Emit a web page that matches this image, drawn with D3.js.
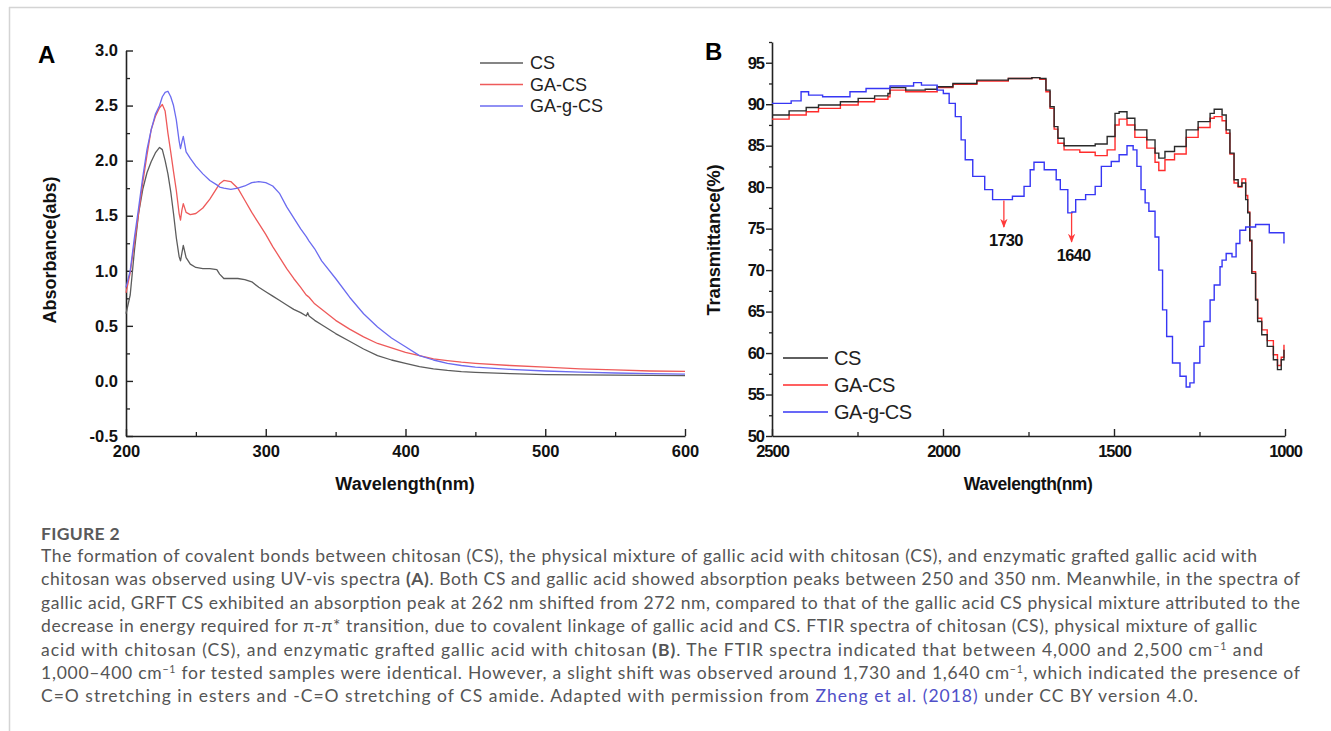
<!DOCTYPE html>
<html>
<head>
<meta charset="utf-8">
<script src="https://cdn.jsdelivr.net/npm/d3@7"></script>
<style>
body { margin: 0; background: #fff; }
svg text { font-family: "Liberation Sans", Arial, sans-serif; }
.cap { font-family: Lato, "Open Sans", sans-serif; white-space: pre; }
</style>
</head>
<body>
<svg id="fig" width="1331" height="731"></svg>
<script>
// ---- Panel A: UV-vis absorbance ----
const uvWave = [200, 203, 206, 209, 212, 215, 218, 221, 224, 226, 228, 230, 232, 234, 236, 238, 239, 240, 241, 243, 246, 250, 255, 260, 265, 267, 270, 275, 280, 285, 290, 295, 300, 305, 310, 315, 320, 325, 329, 330, 331, 335, 340, 350, 360, 370, 380, 390, 400, 410, 420, 430, 440, 450, 475, 500, 525, 550, 575, 600];
const uvCS = [0.61, 0.78, 1.18, 1.52, 1.74, 1.89, 1.99, 2.07, 2.12, 2.10, 2.00, 1.88, 1.72, 1.52, 1.30, 1.13, 1.09, 1.16, 1.23, 1.12, 1.06, 1.03, 1.02, 1.02, 1.01, 0.97, 0.93, 0.93, 0.93, 0.92, 0.90, 0.85, 0.81, 0.77, 0.73, 0.69, 0.65, 0.62, 0.59, 0.62, 0.59, 0.55, 0.51, 0.43, 0.36, 0.29, 0.23, 0.19, 0.16, 0.13, 0.11, 0.095, 0.085, 0.078, 0.066, 0.058, 0.055, 0.052, 0.05, 0.048];
const uvGACS = [0.80, 0.98, 1.25, 1.52, 1.80, 2.05, 2.28, 2.40, 2.48, 2.51, 2.45, 2.25, 2.08, 1.90, 1.73, 1.52, 1.46, 1.55, 1.61, 1.53, 1.51, 1.52, 1.57, 1.65, 1.75, 1.79, 1.82, 1.81, 1.75, 1.64, 1.53, 1.43, 1.33, 1.22, 1.12, 1.02, 0.93, 0.85, 0.78, 0.77, 0.76, 0.70, 0.65, 0.55, 0.47, 0.40, 0.34, 0.30, 0.26, 0.23, 0.20, 0.185, 0.17, 0.16, 0.14, 0.125, 0.11, 0.10, 0.09, 0.086];
const uvGAgCS = [0.85, 1.00, 1.30, 1.57, 1.85, 2.10, 2.28, 2.42, 2.50, 2.58, 2.62, 2.63, 2.58, 2.50, 2.37, 2.18, 2.11, 2.17, 2.22, 2.08, 2.02, 1.95, 1.88, 1.82, 1.78, 1.76, 1.75, 1.74, 1.75, 1.77, 1.80, 1.81, 1.80, 1.77, 1.70, 1.58, 1.48, 1.38, 1.31, 1.29, 1.27, 1.20, 1.09, 0.93, 0.76, 0.61, 0.49, 0.39, 0.31, 0.23, 0.19, 0.16, 0.14, 0.125, 0.105, 0.09, 0.08, 0.072, 0.066, 0.062];
const uvTicksX = [200, 300, 400, 500, 600];
const uvMinorX = [250, 350, 450, 550];
const uvTicksY = [-0.5, 0, 0.5, 1.0, 1.5, 2.0, 2.5, 3.0];
const uvMinorY = [-0.25, 0.25, 0.75, 1.25, 1.75, 2.25, 2.75];

// ---- Panel B: FTIR transmittance ----
const ftirWave = [2500, 2450, 2400, 2364, 2300, 2248, 2200, 2161, 2155, 2109, 2052, 2017, 1971, 1901, 1809, 1740, 1717, 1699, 1687, 1675, 1664, 1646, 1600, 1555, 1520, 1497, 1485, 1462, 1439, 1404, 1380, 1369, 1351, 1323, 1289, 1254, 1219, 1207, 1184, 1172, 1161, 1149, 1137, 1126, 1115, 1109, 1103, 1097, 1086, 1080, 1068, 1052, 1034, 1022, 1011, 1003];
const ftirCS = [88.7, 89.2, 89.6, 89.9, 90.3, 90.7, 91.0, 91.3, 92.0, 91.7, 91.8, 92.1, 92.5, 92.9, 93.1, 93.2, 93.1, 91.7, 89.7, 87.3, 85.9, 85.0, 85.0, 85.2, 86.1, 88.9, 89.1, 88.3, 86.9, 85.7, 84.1, 83.5, 84.3, 84.9, 86.9, 87.9, 88.9, 89.4, 88.7, 86.9, 84.1, 80.9, 80.1, 80.5, 78.5, 76.9, 73.6, 69.6, 66.4, 63.8, 62.2, 60.8, 59.2, 58.0, 59.2, 60.4];
const ftirGACS = [88.2, 88.7, 89.1, 89.5, 89.9, 90.3, 90.6, 90.9, 91.7, 91.5, 91.5, 92.0, 92.4, 92.8, 93.1, 93.2, 93.0, 91.5, 89.5, 87.0, 85.3, 84.5, 84.2, 83.8, 84.5, 87.5, 88.2, 87.5, 86.0, 84.7, 83.0, 82.0, 83.3, 84.0, 86.0, 87.2, 88.3, 88.5, 88.0, 86.5, 84.0, 80.5, 80.0, 81.0, 79.0, 77.0, 73.5, 69.8, 66.5, 64.2, 62.8, 61.5, 59.8, 58.5, 59.5, 61.0];
const ftirWaveG = [2500, 2444, 2415, 2393, 2352, 2312, 2272, 2225, 2155, 2086, 2063, 2017, 1999, 1982, 1964, 1947, 1935, 1913, 1878, 1855, 1820, 1797, 1763, 1745, 1734, 1704, 1669, 1657, 1635, 1623, 1612, 1583, 1555, 1537, 1508, 1485, 1462, 1444, 1433, 1421, 1409, 1398, 1380, 1369, 1358, 1346, 1329, 1307, 1289, 1278, 1266, 1249, 1237, 1219, 1207, 1190, 1184, 1172, 1155, 1143, 1132, 1115, 1086, 1046, 1003];
const ftirGAgCS = [90.1, 90.4, 91.5, 91.1, 90.9, 90.9, 91.5, 91.9, 92.2, 92.6, 92.3, 91.7, 91.3, 90.1, 88.5, 85.7, 83.3, 81.3, 79.7, 78.5, 78.5, 78.9, 80.1, 82.1, 83.0, 82.1, 80.9, 79.7, 76.9, 77.0, 78.5, 79.1, 80.1, 82.5, 83.1, 83.9, 85.0, 84.5, 82.5, 79.7, 78.1, 77.1, 74.0, 70.0, 65.2, 62.0, 58.8, 57.2, 55.9, 56.4, 58.8, 60.8, 63.8, 66.4, 68.2, 70.4, 71.2, 72.0, 71.6, 73.2, 74.8, 75.2, 75.5, 74.5, 73.2];
const ftirTicksX = [2500, 2000, 1500, 1000];
const ftirMinorX = [2250, 1750, 1250];
const ftirTicksY = [50, 55, 60, 65, 70, 75, 80, 85, 90, 95];
const ftirMinorY = [52.5, 57.5, 62.5, 67.5, 72.5, 77.5, 82.5, 87.5, 92.5, 97.5];

// peak annotations (wavelength, arrow top / bottom, label level)
const peakLabels = ["1730", "1640"];
const peakX = [1822, 1624];
const peakTop = [78.4, 76.9];
const peakBottom = [75.2, 73.4];
const peakText = [73.6, 71.8];

const seriesNames = ["CS", "GA-CS", "GA-g-CS"];
const colorsA = ["#5c5c5c", "#ee5a5a", "#6b6bf0"];
const colorsB = ["#2a2a2a", "#ff2b2b", "#3636f4"];

const svg = d3.select("#fig");

// page frame
svg.append("line").attr("x1", 9).attr("x2", 1331).attr("y1", 7.5).attr("y2", 7.5)
  .attr("stroke", "#d4d4d4").attr("stroke-width", 1.5);
svg.append("line").attr("x1", 9.5).attr("x2", 9.5).attr("y1", 7).attr("y2", 731)
  .attr("stroke", "#d4d4d4").attr("stroke-width", 1.5);

function styleAxis(g, size, spacing) {
  g.attr("font-family", "'Liberation Sans', Arial, sans-serif")
    .attr("font-size", size);
  g.select(".domain").attr("stroke", "#222").attr("stroke-width", 1.6);
  g.selectAll(".tick line").attr("stroke", "#222").attr("stroke-width", 1.4);
  g.selectAll(".tick text").attr("font-weight", "bold").attr("fill", "#111")
    .style("letter-spacing", spacing);
}

function minorAxis(g) {
  g.select(".domain").remove();
  g.selectAll(".tick line").attr("stroke", "#222").attr("stroke-width", 1.3);
}

// ================= Panel A =================
const xA = d3.scaleLinear().domain([200, 600]).range([126, 685]);
const yA = d3.scaleLinear().domain([-0.5, 3.0]).range([436, 50.5]);

svg.append("g").attr("transform", "translate(0,436)")
  .call(d3.axisBottom(xA).tickValues(uvMinorX).tickSize(-4).tickFormat(""))
  .call(minorAxis);
svg.append("g").attr("transform", "translate(126,0)")
  .call(d3.axisLeft(yA).tickValues(uvMinorY).tickSize(-4).tickFormat(""))
  .call(minorAxis);

svg.append("g").attr("transform", "translate(0,436)")
  .call(d3.axisBottom(xA).tickValues(uvTicksX).tickSize(-7).tickSizeOuter(0).tickPadding(9).tickFormat(d => d))
  .call(g => styleAxis(g, 16.5, "0px"));
svg.append("g").attr("transform", "translate(126,0)")
  .call(d3.axisLeft(yA).tickValues(uvTicksY).tickSize(-7).tickSizeOuter(0).tickPadding(8).tickFormat(d => d.toFixed(1)))
  .call(g => styleAxis(g, 16.5, "0px"));

const uvSeries = [uvCS, uvGACS, uvGAgCS];
const lineA = d3.line().x(d => xA(d[0])).y(d => yA(d[1]));
svg.append("g").selectAll("path")
  .data(uvSeries)
  .join("path")
  .attr("d", vals => lineA(uvWave.map((w, i) => [w, vals[i]])))
  .attr("fill", "none")
  .attr("stroke", (d, i) => colorsA[i])
  .attr("stroke-width", 1.3)
  .attr("stroke-linejoin", "round");

// legend A
const legA = svg.append("g").selectAll("g")
  .data(seriesNames)
  .join("g")
  .attr("transform", (d, i) => `translate(480,${63 + i * 21.5})`);
legA.append("line").attr("x1", 0).attr("x2", 43)
  .attr("stroke", (d, i) => colorsA[i]).attr("stroke-width", 1.3);
legA.append("text").attr("x", 50).attr("dy", "0.35em")
  .attr("font-size", 18).attr("fill", "#222").text(d => d);

// titles A
svg.append("text").attr("x", 38).attr("y", 63)
  .attr("font-size", 24).attr("font-weight", "bold").text("A");
svg.append("text").attr("x", 405).attr("y", 490).attr("text-anchor", "middle")
  .attr("font-size", 18).attr("font-weight", "bold").attr("fill", "#111").text("Wavelength(nm)");
svg.append("text").attr("transform", "translate(56,250) rotate(-90)").attr("text-anchor", "middle")
  .attr("font-size", 18).attr("font-weight", "bold").attr("fill", "#111").text("Absorbance(abs)");

// ================= Panel B =================
const xB = d3.scaleLinear().domain([2500, 1000]).range([772, 1285]);
const yB = d3.scaleLinear().domain([50, 97.5]).range([436, 42]);

svg.append("g").attr("transform", "translate(0,436)")
  .call(d3.axisBottom(xB).tickValues(ftirMinorX).tickSize(-4).tickFormat(""))
  .call(minorAxis);
svg.append("g").attr("transform", "translate(772,0)")
  .call(d3.axisLeft(yB).tickValues(ftirMinorY).tickSize(3).tickFormat(""))
  .call(minorAxis);

svg.append("g").attr("transform", "translate(0,436)")
  .call(d3.axisBottom(xB).tickValues(ftirTicksX).tickSize(-7).tickSizeOuter(0).tickPadding(9).tickFormat(d => d))
  .call(g => styleAxis(g, 16.5, "-1px"));
svg.append("g").attr("transform", "translate(772,0)")
  .call(d3.axisLeft(yB).tickValues(ftirTicksY).tickSize(6).tickSizeOuter(0).tickPadding(2).tickFormat(d => d))
  .call(g => styleAxis(g, 16.5, "-1px"));

const lineB = d3.line().x(d => xB(d[0])).y(d => yB(d[1])).curve(d3.curveStepAfter);
const ftirData = [
  ftirWave.map((w, i) => [w, ftirGACS[i]]),
  ftirWave.map((w, i) => [w, ftirCS[i]]),
  ftirWaveG.map((w, i) => [w, ftirGAgCS[i]])
];
const ftirColor = [colorsB[1], colorsB[0], colorsB[2]];
svg.append("g").selectAll("path")
  .data(ftirData)
  .join("path")
  .attr("d", lineB)
  .attr("fill", "none")
  .attr("stroke", (d, i) => ftirColor[i])
  .attr("stroke-width", 1.4);

// red arrows for 1730 / 1640
svg.append("defs").append("marker")
  .attr("id", "arrow").attr("viewBox", "0 0 10 10")
  .attr("refX", 9).attr("refY", 5)
  .attr("markerWidth", 7).attr("markerHeight", 7)
  .attr("orient", "auto")
  .append("path").attr("d", "M0,1 L10,5 L0,9 L3,5 Z").attr("fill", "#ff3a3a");

const peaks = svg.append("g").selectAll("g")
  .data(peakLabels)
  .join("g");
peaks.append("line")
  .attr("x1", (d, i) => xB(peakX[i])).attr("x2", (d, i) => xB(peakX[i]))
  .attr("y1", (d, i) => yB(peakTop[i])).attr("y2", (d, i) => yB(peakBottom[i]))
  .attr("stroke", "#ff3a3a").attr("stroke-width", 1.3)
  .attr("marker-end", "url(#arrow)");
peaks.append("text")
  .attr("x", (d, i) => xB(peakX[i]) + 2).attr("y", (d, i) => yB(peakText[i]))
  .attr("dy", "0.35em").attr("text-anchor", "middle")
  .attr("font-size", 16.5).attr("font-weight", "bold").attr("fill", "#111")
  .style("letter-spacing", "-0.8px")
  .text(d => d);

// legend B
const legB = svg.append("g").selectAll("g")
  .data(seriesNames)
  .join("g")
  .attr("transform", (d, i) => `translate(783,${358 + i * 27})`);
legB.append("line").attr("x1", 0).attr("x2", 45)
  .attr("stroke", (d, i) => colorsB[i]).attr("stroke-width", 1.4);
legB.append("text").attr("x", 51).attr("dy", "0.35em")
  .attr("font-size", 20).attr("fill", "#222").style("letter-spacing", "-0.5px").text(d => d);

// titles B
svg.append("text").attr("x", 705).attr("y", 60)
  .attr("font-size", 24).attr("font-weight", "bold").text("B");
svg.append("text").attr("x", 1028).attr("y", 490).attr("text-anchor", "middle")
  .attr("font-size", 17.5).attr("font-weight", "bold").attr("fill", "#111")
  .style("letter-spacing", "-0.5px").text("Wavelength(nm)");
svg.append("text").attr("transform", "translate(720,240) rotate(-90)").attr("text-anchor", "middle")
  .attr("font-size", 18.5).attr("font-weight", "bold").attr("fill", "#111")
  .style("letter-spacing", "-0.2px").text("Transmittance(%)");

// ================= Caption =================
const captionLines = [
  [["The formation of covalent bonds between chitosan (CS), the physical mixture of gallic acid with chitosan (CS), and enzymatic grafted gallic acid with"]],
  [["chitosan was observed using UV-vis spectra "], ["(A)", "b"], [". Both CS and gallic acid showed absorption peaks between 250 and 350 nm. Meanwhile, in the spectra of"]],
  [["gallic acid, GRFT CS exhibited an absorption peak at 262 nm shifted from 272 nm, compared to that of the gallic acid CS physical mixture attributed to the"]],
  [["decrease in energy required for π-π* transition, due to covalent linkage of gallic acid and CS. FTIR spectra of chitosan (CS), physical mixture of gallic"]],
  [["acid with chitosan (CS), and enzymatic grafted gallic acid with chitosan "], ["(B)", "b"], [". The FTIR spectra indicated that between 4,000 and 2,500 cm"], ["−1", "sup"], [" and"]],
  [["1,000–400 cm"], ["−1", "sup"], [" for tested samples were identical. However, a slight shift was observed around 1,730 and 1,640 cm"], ["−1", "sup"], [", which indicated the presence of"]],
  [["C=O stretching in esters and -C=O stretching of CS amide. Adapted with permission from "], ["Zheng et al. (2018)", "link"], [" under CC BY version 4.0."]]
];
const captionEnds = [1257, 1300, 1300, 1257, 1263, 1300, 1198];

svg.append("text").attr("class", "cap").attr("x", 41).attr("y", 540)
  .attr("font-size", 17.5).attr("font-weight", "bold").attr("fill", "#5a5a5a")
  .style("letter-spacing", "0.3px").text("FIGURE 2");

captionLines.forEach((segs, li) => {
  const t = svg.append("text").attr("class", "cap")
    .attr("x", 41).attr("y", 562 + li * 23.4)
    .attr("font-size", 17.5).attr("fill", "#555")
    .attr("textLength", captionEnds[li] - 41)
    .attr("lengthAdjust", "spacing");
  let raised = false;
  segs.forEach(([txt, kind]) => {
    const s = t.append("tspan").text(txt);
    if (kind === "b") s.attr("font-weight", "bold");
    if (kind === "link") s.attr("fill", "#5050c8");
    if (kind === "sup") { s.attr("font-size", 10.5).attr("dy", -6); raised = true; }
    else if (raised) { s.attr("dy", 6); raised = false; }
  });
});
</script>
</body>
</html>
